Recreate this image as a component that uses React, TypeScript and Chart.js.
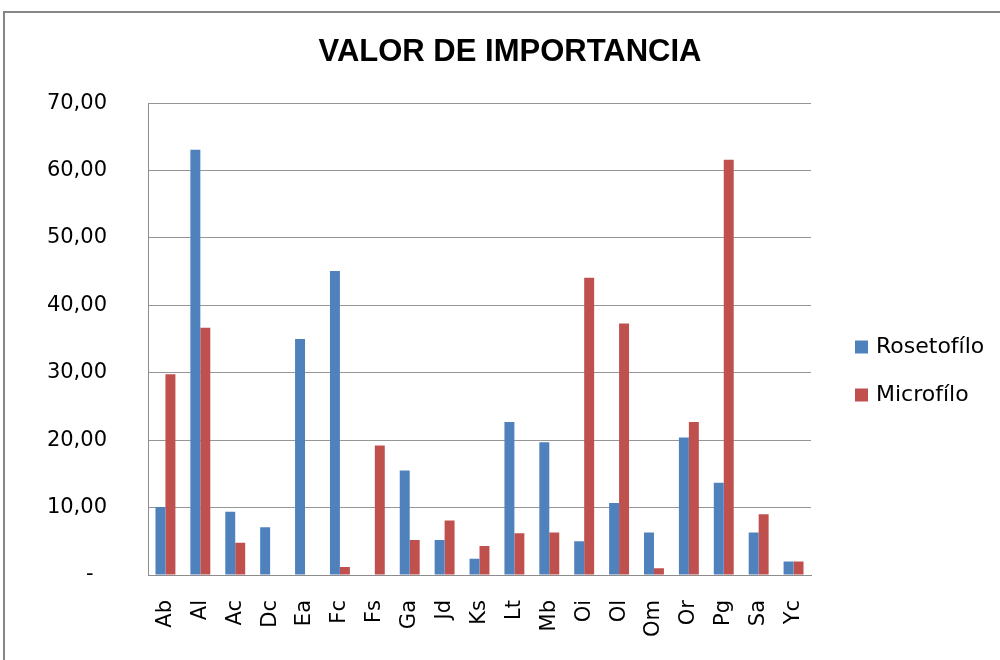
import React, { useEffect, useRef } from "react";
import { Chart, registerables } from "chart.js";

Chart.register(...registerables);

const chartTitle = "VALOR DE IMPORTANCIA";
const categories = ["Ab", "Al", "Ac", "Dc", "Ea", "Fc", "Fs", "Ga", "Jd", "Ks", "Lt", "Mb", "Oi", "Ol", "Om", "Or", "Pg", "Sa", "Yc"];
const seriesNames = ["Rosetofílo", "Microfílo"];
const rosetofilo = [10.1, 63.1, 9.4, 7.1, 35.0, 45.1, 0, 15.5, 5.2, 2.4, 22.7, 19.7, 5.0, 10.7, 6.3, 20.4, 13.7, 6.3, 2.0];
const microfilo = [29.8, 36.7, 4.8, 0, 0, 1.2, 19.2, 5.2, 8.1, 4.3, 6.2, 6.3, 44.1, 37.3, 1.0, 22.7, 61.6, 9.0, 2.0];
const yTickLabels = ["-  ", "10,00", "20,00", "30,00", "40,00", "50,00", "60,00", "70,00"];
const yMax = 70;
const yStep = 10;

const colors = ["#4F81BD", "#C0504D"];
const tickFont = { family: "'DejaVu Sans', sans-serif", size: 21 };

const framePlugin = {
  id: "frame",
  beforeDraw(chart: any) {
    const ctx = chart.ctx;
    ctx.save();
    ctx.fillStyle = "#ffffff";
    ctx.fillRect(0, 0, chart.width, chart.height);
    ctx.strokeStyle = "#868686";
    ctx.lineWidth = 2;
    ctx.strokeRect(4, 12, chart.width + 20, chart.height + 20);
    ctx.restore();
  },
};

const legendPlugin = {
  id: "customLegend",
  afterDraw(chart: any) {
    const ctx = chart.ctx;
    const x = 855;
    const y0 = 347;
    const gap = 48;
    const box = 13;
    ctx.save();
    ctx.font = "22px 'DejaVu Sans', sans-serif";
    ctx.textBaseline = "middle";
    ctx.textAlign = "left";
    chart.data.datasets.forEach((ds: any, i: number) => {
      const y = y0 + i * gap;
      ctx.fillStyle = ds.backgroundColor;
      ctx.fillRect(x, y - box / 2, box, box);
      ctx.fillStyle = "#000000";
      ctx.fillText(ds.label, x + 21, y);
    });
    ctx.restore();
  },
};

export default function App() {
  const ref = useRef<HTMLCanvasElement | null>(null);

  useEffect(() => {
    if (!ref.current) return;
    const chart = new Chart(ref.current, {
      type: "bar",
      data: {
        labels: categories,
        datasets: [
          { label: seriesNames[0], data: rosetofilo, backgroundColor: colors[0], yAxisID: "y" },
          { label: seriesNames[1], data: microfilo, backgroundColor: colors[1], yAxisID: "y" },
        ],
      },
      options: {
        responsive: false,
        animation: false,
        layout: { padding: { left: 20, right: 0, top: 0, bottom: 0 } },
        datasets: {
          bar: { categoryPercentage: 0.571, barPercentage: 1.0 },
        },
        plugins: {
          legend: { display: false },
          tooltip: { enabled: false },
          title: {
            display: true,
            text: chartTitle,
            color: "#000000",
            font: { family: "'Liberation Sans', Arial, sans-serif", size: 31, weight: "bold" },
            padding: { top: 34, bottom: 32 },
          },
        },
        scales: {
          x: {
            grid: { display: false, drawTicks: false },
            border: { display: true, color: "#8c8c8c", width: 1 },
            ticks: {
              color: "#000000",
              font: tickFont,
              minRotation: 90,
              maxRotation: 90,
              padding: 25,
              autoSkip: false,
            },
            afterFit(scale: any) {
              scale.height = 85;
            },
          },
          y: {
            position: "left",
            min: 0,
            max: yMax,
            grid: { color: "#969696", lineWidth: 1, drawTicks: false },
            border: { display: true, color: "#8c8c8c", width: 1 },
            ticks: {
              stepSize: yStep,
              color: "#000000",
              font: tickFont,
              padding: 41,
              callback: (_v: any, i: number) => yTickLabels[i],
            },
            afterFit(scale: any) {
              scale.width = 128;
            },
          },
          yRight: {
            position: "right",
            display: true,
            grid: { display: false, drawTicks: false },
            border: { display: false },
            ticks: { display: false },
            afterFit(scale: any) {
              scale.width = 189;
            },
          },
        },
      } as any,
      plugins: [framePlugin, legendPlugin],
    });
    return () => chart.destroy();
  }, []);

  return (
    <div style={{ position: "absolute", left: 0, top: 0, width: 1000, height: 660 }}>
      <canvas ref={ref} width={1000} height={660} style={{ display: "block" }} />
    </div>
  );
}
